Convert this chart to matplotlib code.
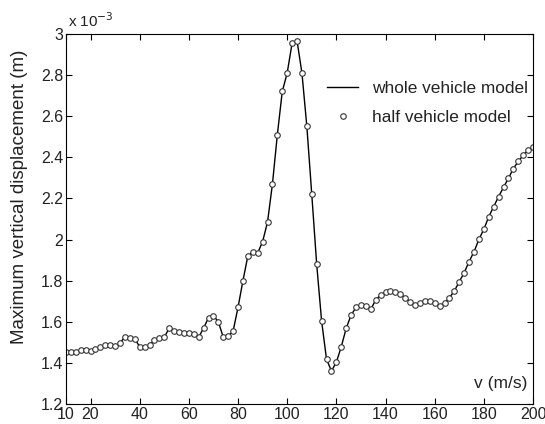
"""Maximum vertical displacement versus speed for whole and half vehicle models."""

import matplotlib

matplotlib.use("Agg")

import matplotlib.pyplot as plt
import numpy as np

plt.rcParams["font.family"] = ["Liberation Sans", "DejaVu Sans"]

# speed (m/s)
speed = np.arange(10, 201, 2)

# maximum vertical displacement, in units of 1e-3 m
whole_model = [
    1.455, 1.452, 1.455, 1.463, 1.465, 1.460, 1.468, 1.476, 1.486, 1.488,
    1.480, 1.497, 1.527, 1.523, 1.518, 1.478, 1.477, 1.488, 1.510, 1.520,
    1.525, 1.569, 1.555, 1.550, 1.544, 1.545, 1.540, 1.525, 1.570, 1.620,
    1.630, 1.600, 1.525, 1.530, 1.555, 1.670, 1.800, 1.920, 1.940, 1.935,
    1.990, 2.085, 2.270, 2.510, 2.720, 2.810, 2.955, 2.967, 2.810, 2.550,
    2.220, 1.880, 1.604, 1.418, 1.361, 1.403, 1.479, 1.568, 1.633, 1.670,
    1.680, 1.678, 1.661, 1.706, 1.731, 1.744, 1.750, 1.747, 1.734, 1.717,
    1.698, 1.682, 1.693, 1.703, 1.701, 1.690, 1.677, 1.690, 1.717, 1.750,
    1.795, 1.839, 1.893, 1.941, 2.001, 2.050, 2.111, 2.160, 2.209, 2.254,
    2.298, 2.345, 2.380, 2.410, 2.435, 2.450,
]
half_model = list(whole_model)

x_ticks = [10, 20, 40, 60, 80, 100, 120, 140, 160, 180, 200]
y_ticks = [1.2, 1.4, 1.6, 1.8, 2.0, 2.2, 2.4, 2.6, 2.8, 3.0]

TEXT = "#222222"


def main():
    fig = plt.figure(figsize=(5.45, 4.24), dpi=100)
    ax = fig.add_axes([0.121, 0.047, 0.857, 0.873])

    ax.plot(speed, whole_model, color="black", linewidth=1.0, label="whole vehicle model")
    ax.plot(
        speed,
        half_model,
        linestyle="none",
        marker="o",
        markersize=4.0,
        markerfacecolor="white",
        markeredgecolor="#333333",
        markeredgewidth=0.8,
        label="half vehicle model",
    )

    ax.set_xlim(10, 200)
    ax.set_ylim(1.2, 3.0)
    ax.set_xticks(x_ticks)
    ax.set_yticks(y_ticks)
    ax.set_yticklabels([f"{t:g}" for t in y_ticks])
    ax.tick_params(
        direction="in", top=True, right=True, length=4, width=0.8,
        labelsize=11.5, labelcolor=TEXT, pad=2,
    )
    for spine in ax.spines.values():
        spine.set_linewidth(0.8)

    ax.set_ylabel("Maximum vertical displacement (m)", fontsize=13.5, color=TEXT)
    ax.yaxis.set_label_coords(-0.082, 0.56)
    ax.text(0.004, 1.01, r"x 10$^{-3}$", transform=ax.transAxes, fontsize=11,
            color=TEXT, ha="left", va="bottom")
    ax.text(0.987, 0.035, "v (m/s)", transform=ax.transAxes, fontsize=12.5,
            color=TEXT, ha="right", va="bottom")

    ax.legend(
        loc="upper left",
        bbox_to_anchor=(0.559, 0.873),
        borderpad=0,
        borderaxespad=0,
        frameon=False,
        prop={"size": 12.4},
        handlelength=1.8,
        handletextpad=0.8,
        labelspacing=0.8,
        labelcolor=TEXT,
    )

    fig.savefig("out.png", dpi=100)
    plt.close(fig)


if __name__ == "__main__":
    main()
